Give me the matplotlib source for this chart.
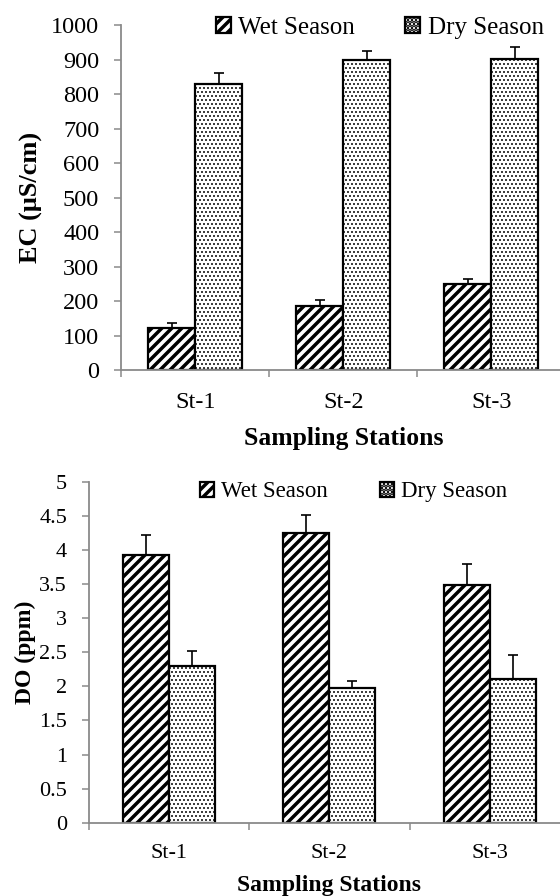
import numpy as np
import matplotlib
matplotlib.use("Agg")
import matplotlib.pyplot as plt

# rendered at 120 dpi so the hatch cell matches the reference stripe spacing;
# S converts sizes worked out in 100-dpi pixels to points
DPI = 120
S = 100.0 / DPI

plt.rcParams['font.family'] = ['Liberation Serif', 'DejaVu Serif']
plt.rcParams['hatch.linewidth'] = 2.5 * S

stations = ["St-1", "St-2", "St-3"]
seasons = ["Wet Season", "Dry Season"]

ec_wet = [121, 186, 248]
ec_wet_err = [14, 17, 17]
ec_dry = [829, 898, 903]
ec_dry_err = [33, 28, 33]

do_wet = [3.92, 4.25, 3.49]
do_wet_err = [0.30, 0.26, 0.30]
do_dry = [2.30, 1.97, 2.11]
do_dry_err = [0.22, 0.11, 0.35]

AXIS_GRAY = "#8a8a8a"


def draw_panel(ax, wet, wet_err, dry, dry_err, width, ymax, ystep, ylabel,
               tick_fs, label_fs, ylabel_fs, xright, xpad):
    x = np.arange(len(stations))
    b1 = ax.bar(x - width / 2, wet, width, color="white", edgecolor="black",
                linewidth=1.6 * S, hatch="////", label=seasons[0], zorder=2)
    b2 = ax.bar(x + width / 2, dry, width, color="white", edgecolor="black",
                linewidth=1.6 * S, hatch=".....", label=seasons[1],
                zorder=2)
    for bars, hlw in ((b1, 2.5), (b2, 0.8)):
        for p in bars:
            if hasattr(p, "set_hatch_linewidth"):
                p.set_hatch_linewidth(hlw * S)
    ax.errorbar(x - width / 2, wet, yerr=[np.zeros(len(wet)), wet_err],
                fmt="none", ecolor="black", elinewidth=1.2 * S,
                capsize=3.6 * S, capthick=1.2 * S, zorder=3)
    ax.errorbar(x + width / 2, dry, yerr=[np.zeros(len(dry)), dry_err],
                fmt="none", ecolor="black", elinewidth=1.2 * S,
                capsize=3.6 * S, capthick=1.2 * S, zorder=3)

    ax.set_xlim(-0.5, xright)
    ax.set_ylim(0, ymax)
    ax.set_yticks(np.arange(0, ymax + ystep / 2, ystep))
    ax.yaxis.set_major_formatter(matplotlib.ticker.FuncFormatter(
        lambda v, p: "%g" % v))
    ax.set_xticks(x)
    ax.set_xticklabels(stations)
    ax.set_xticks([-0.5, 0.5, 1.5], minor=True)

    for s in ("top", "right"):
        ax.spines[s].set_visible(False)
    for s in ("left", "bottom"):
        ax.spines[s].set_color(AXIS_GRAY)
        ax.spines[s].set_linewidth(1.3 * S)

    ax.tick_params(axis="x", which="major", length=0,
                   labelsize=tick_fs * S, pad=xpad * S)
    ax.tick_params(axis="x", which="minor", length=5 * S, width=1.1 * S,
                   color=AXIS_GRAY)
    ax.tick_params(axis="y", length=5 * S, width=1.1 * S, color=AXIS_GRAY,
                   labelsize=tick_fs * S, pad=11 * S)

    ax.set_ylabel(ylabel, fontsize=ylabel_fs * S, fontweight="bold")
    ax.set_xlabel("Sampling Stations", fontsize=label_fs * S,
                  fontweight="bold")
    return b1, b2


fig = plt.figure(figsize=(560 / DPI, 896 / DPI), dpi=DPI)

ax1 = fig.add_axes([0.2168, 0.587, 0.7832, 0.385])
draw_panel(ax1, ec_wet, ec_wet_err, ec_dry, ec_dry_err, 0.318, 1000, 100,
           "EC (μS/cm)", 17.5, 18.5, 19, 2.464, 16)
ax1.yaxis.set_label_coords(-0.179, 0.5)
ax1.xaxis.set_label_coords(0.506, -0.166)
ax1.legend(loc="center", bbox_to_anchor=(0.678, 0.969),
           bbox_transform=fig.transFigure, ncol=2, frameon=False,
           fontsize=18 * S, handlelength=0.6, handleheight=0.6,
           handletextpad=0.3, columnspacing=2.0, borderpad=0)

ax2 = fig.add_axes([0.1595, 0.0818, 0.8405, 0.3806])
draw_panel(ax2, do_wet, do_wet_err, do_dry, do_dry_err, 0.2875, 5, 0.5,
           "DO (ppm)", 16, 17, 17, 2.44, 15)
ax2.yaxis.set_label_coords(-0.113, 0.5)
ax2.xaxis.set_label_coords(0.509, -0.152)
ax2.legend(loc="center", bbox_to_anchor=(0.631, 0.451),
           bbox_transform=fig.transFigure, ncol=2, frameon=False,
           fontsize=16.5 * S, handlelength=0.6, handleheight=0.6,
           handletextpad=0.3, columnspacing=2.3, borderpad=0)

fig.savefig("out.png", dpi=DPI)
